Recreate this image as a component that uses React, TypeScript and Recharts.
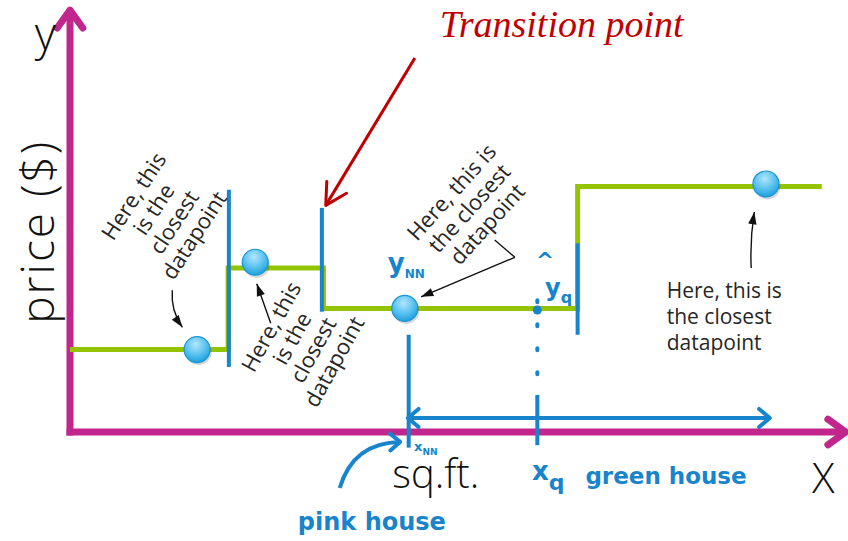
import {
  ComposedChart, Line, Scatter, XAxis, YAxis, ReferenceLine, ReferenceDot,
} from 'recharts';

// 1-nearest-neighbour fit: price jumps at these sq.ft. values
const stepSqft = [0, 204, 327, 655, 970];
const stepPrice = [100, 199, 150, 298, 298];

// observed houses
const houseSqft = [164, 239, 432, 898];
const housePrice = [100, 206, 150, 301];

const stepData = stepSqft.map((x, i) => ({ x, y: stepPrice[i] }));
const houseData = houseSqft.map((x, i) => ({ x, y: housePrice[i] }));

const W = 848;
const H = 541;
const MAGENTA = '#c1268d';
const GREEN = '#94c400';
const PEN = '#1784cc';
const RED = '#c00000';
const INK = '#262626';
const SANS = '"Open Sans", "Noto Sans", sans-serif';
const HAND = '"DejaVu Sans", sans-serif';

type P = [number, number];

// callouts (chart units)
const closestNotes = [
  { at: [122, 262] as P, angle: -57, lines: ['Here, this', 'is the', 'closest', 'datapoint'] },
  { at: [301, 106] as P, angle: -61, lines: ['Here, this', 'is the', 'closest', 'datapoint'] },
  { at: [516, 271] as P, angle: -48, lines: ['Here, this is', 'the closest', 'datapoint'] },
];
const flatNote = { at: [770, 163] as P, lines: ['Here, this is', 'the closest', 'datapoint'] };

const pointers = [
  { from: [132, 172] as P, to: [145, 127] as P, bend: -7 },
  { from: [259, 132] as P, to: [241, 180] as P, bend: 0 },
  { from: [574, 212] as P, to: [453, 164] as P, bend: 0 },
  { from: [879, 199] as P, to: [883, 267] as P, bend: 3 },
];
const pointerTicks: P[][] = [[[548, 233], [574, 212]]];

// blue pen marks
const penMarks: P[][] = [
  [[205, 294], [205, 79]],
  [[325, 272], [325, 146]],
  [[655, 229], [655, 118]],
  [[437, 118], [437, -19]],
  [[603, 45], [603, -16]],
];
const penDotted: P[][] = [[[603, 160], [603, 50]]];
const penLabels = [
  { at: [410, 194] as P, main: 'y', sub: 'NN', size: 26, subSize: 12 },
  { at: [613, 165] as P, main: 'y', sub: 'q', size: 24, subSize: 16 },
  { at: [601, 199] as P, main: '^', sub: '', size: 22, subSize: 0 },
  { at: [444, -23] as P, main: 'x', sub: 'NN', size: 13, subSize: 9 },
  { at: [596, -58] as P, main: 'x', sub: 'q', size: 26, subSize: 22 },
  { at: [665, -63] as P, main: 'green house', sub: '', size: 23, subSize: 0 },
  { at: [294, -119] as P, main: 'pink house', sub: '', size: 24, subSize: 0 },
];

const arrowShape = (o: {
  color: string; width: number; head: number; spread?: number;
  filled?: boolean; both?: boolean; bend?: number; dash?: string;
}) => (p: any) => {
  const { x1, y1, x2, y2 } = p;
  const bend = o.bend ?? 0;
  const dx = x2 - x1;
  const dy = y2 - y1;
  const len = Math.hypot(dx, dy) || 1;
  const qx = (x1 + x2) / 2 + (bend * dy) / len;
  const qy = (y1 + y2) / 2 - (bend * dx) / len;
  const s = o.spread ?? 0.45;
  const head = (tx: number, ty: number, fx: number, fy: number) => {
    const a = Math.atan2(ty - fy, tx - fx);
    const ax = tx - o.head * Math.cos(a - s);
    const ay = ty - o.head * Math.sin(a - s);
    const bx = tx - o.head * Math.cos(a + s);
    const by = ty - o.head * Math.sin(a + s);
    return o.filled ? (
      <path d={`M${ax},${ay}L${tx},${ty}L${bx},${by}Z`} fill={o.color} />
    ) : (
      <path d={`M${ax},${ay}L${tx},${ty}L${bx},${by}`} fill="none" stroke={o.color}
        strokeWidth={o.width} strokeLinecap="round" strokeLinejoin="round" />
    );
  };
  return (
    <g>
      <path d={`M${x1},${y1}Q${qx},${qy} ${x2},${y2}`} fill="none" stroke={o.color}
        strokeWidth={o.width} strokeLinecap={o.dash ? 'round' : 'butt'} strokeDasharray={o.dash} />
      {o.head > 0 && head(x2, y2, qx, qy)}
      {o.both && head(x1, y1, qx, qy)}
    </g>
  );
};

const seg = (a: P, b: P) => [{ x: a[0], y: a[1] }, { x: b[0], y: b[1] }];

const houseShape = (p: any) => (
  <g>
    <circle cx={p.cx + 1.5} cy={p.cy + 2.5} r={13} fill="rgba(0,0,0,0.16)" />
    <circle cx={p.cx} cy={p.cy} r={13} fill="url(#houseFill) #55bdee" stroke="#1b96d4" strokeWidth={1.2} />
  </g>
);

export default function App() {
  return (
    <div style={{ width: W, height: H, background: '#fff' }}>
      <style>{'body{margin:0}'}</style>
      <ComposedChart width={W} height={H} margin={{ top: 20, right: 3, bottom: 109, left: 70 }}>
        <defs>
          <radialGradient id="houseFill" cx="45%" cy="30%" r="70%">
            <stop offset="0%" stopColor="#b2e6fc" />
            <stop offset="55%" stopColor="#5cc3f0" />
            <stop offset="100%" stopColor="#1e9fdc" />
          </radialGradient>
        </defs>
        <XAxis type="number" dataKey="x" domain={[0, 1000]} hide />
        <YAxis type="number" dataKey="y" domain={[0, 500]} hide />

        {/* axes with arrow heads */}
        <ReferenceLine segment={seg([-4.5, 0], [1001, 0])} ifOverflow="visible"
          shape={arrowShape({ color: MAGENTA, width: 7, head: 22, spread: 0.62 })} />
        <ReferenceLine segment={seg([0, -4.2], [0, 512])} ifOverflow="visible"
          shape={arrowShape({ color: MAGENTA, width: 7, head: 22, spread: 0.62 })} />

        <Line data={stepData} dataKey="y" type="stepAfter" stroke={GREEN} strokeWidth={5}
          dot={false} activeDot={false} isAnimationActive={false} />

        {penMarks.map((m, i) => (
          <ReferenceLine key={`pen${i}`} segment={seg(m[0], m[1])} ifOverflow="visible"
            shape={arrowShape({ color: PEN, width: 4, head: 0 })} />
        ))}
        {penDotted.map((m, i) => (
          <ReferenceLine key={`dot${i}`} segment={seg(m[0], m[1])} ifOverflow="visible"
            shape={arrowShape({ color: PEN, width: 4, head: 0, dash: '2 22' })} />
        ))}
        <ReferenceDot x={603} y={148} r={4.5} fill={PEN} stroke="none" ifOverflow="visible" />
        <ReferenceLine segment={seg([436, 17], [903, 17])} ifOverflow="visible"
          shape={arrowShape({ color: PEN, width: 4, head: 14, spread: 0.7, both: true })} />
        <ReferenceLine segment={seg([348, -68], [426, -12])} ifOverflow="visible"
          shape={arrowShape({ color: PEN, width: 4, head: 13, spread: 0.7, bend: 28 })} />

        <Scatter data={houseData} dataKey="y" shape={houseShape} isAnimationActive={false} />

        {pointers.map((a, i) => (
          <ReferenceLine key={`ptr${i}`} segment={seg(a.from, a.to)} ifOverflow="visible"
            shape={arrowShape({ color: '#111', width: 1.4, head: 13, spread: 0.33, filled: true, bend: a.bend })} />
        ))}
        {pointerTicks.map((m, i) => (
          <ReferenceLine key={`tick${i}`} segment={seg(m[0], m[1])} ifOverflow="visible"
            shape={arrowShape({ color: '#111', width: 1.4, head: 0 })} />
        ))}
        <ReferenceLine segment={seg([445, 454], [330, 275])} ifOverflow="visible"
          shape={arrowShape({ color: RED, width: 3, head: 24, spread: 0.5 })} />

        {closestNotes.map((n, i) => (
          <ReferenceDot key={`note${i}`} x={n.at[0]} y={n.at[1]} r={0} ifOverflow="visible"
            shape={(p: any) => (
              <text transform={`rotate(${n.angle} ${p.cx} ${p.cy})`} fontFamily={SANS}
                fontSize={22} fill={INK} textAnchor="middle">
                {n.lines.map((l, j) => (
                  <tspan key={j} x={p.cx} y={p.cy + (j - (n.lines.length - 1) / 2) * 24 + 7}>{l}</tspan>
                ))}
              </text>
            )} />
        ))}
        <ReferenceDot x={flatNote.at[0]} y={flatNote.at[1]} r={0} ifOverflow="visible"
          shape={(p: any) => (
            <text fontFamily={SANS} fontSize={21} fill={INK}>
              {flatNote.lines.map((l, j) => (
                <tspan key={j} x={p.cx} y={p.cy + j * 26}>{l}</tspan>
              ))}
            </text>
          )} />

        {penLabels.map((t, i) => (
          <ReferenceDot key={`pl${i}`} x={t.at[0]} y={t.at[1]} r={0} ifOverflow="visible"
            shape={(p: any) => (
              <text x={p.cx} y={p.cy} fontFamily={HAND} fontWeight="bold" fontSize={t.size} fill={PEN}>
                {t.main}
                {t.sub && <tspan fontSize={t.subSize} dy={t.subSize * 0.45}>{t.sub}</tspan>}
              </text>
            )} />
        ))}

        {/* axis names */}
        <ReferenceDot x={-32} y={463} r={0} ifOverflow="visible"
          shape={(p: any) => (
            <text x={p.cx} y={p.cy} textAnchor="middle" fontFamily={SANS} fontWeight={300} fontSize={46} fill="#111">y</text>
          )} />
        <ReferenceDot x={972} y={-74} r={0} ifOverflow="visible"
          shape={(p: any) => (
            <text x={p.cx} y={p.cy} textAnchor="middle" fontFamily={SANS} fontWeight={300} fontSize={42} fill="#111">X</text>
          )} />
        <ReferenceDot x={472} y={-68} r={0} ifOverflow="visible"
          shape={(p: any) => (
            <text x={p.cx} y={p.cy} textAnchor="middle" fontFamily={SANS} fontWeight={300} fontSize={40} fill="#111">sq.ft.</text>
          )} />
        <ReferenceDot x={-21} y={243} r={0} ifOverflow="visible"
          shape={(p: any) => (
            <text x={p.cx} y={p.cy} transform={`rotate(-90 ${p.cx} ${p.cy})`} textAnchor="middle"
              fontFamily={SANS} fontWeight={300} fontSize={46} letterSpacing={2} fill="#111">price ($)</text>
          )} />
        <ReferenceDot x={477} y={479} r={0} ifOverflow="visible"
          shape={(p: any) => (
            <text x={p.cx} y={p.cy} fontFamily='"Liberation Serif", serif' fontStyle="italic"
              fontSize={38} fill={RED}>Transition point</text>
          )} />
      </ComposedChart>
    </div>
  );
}
